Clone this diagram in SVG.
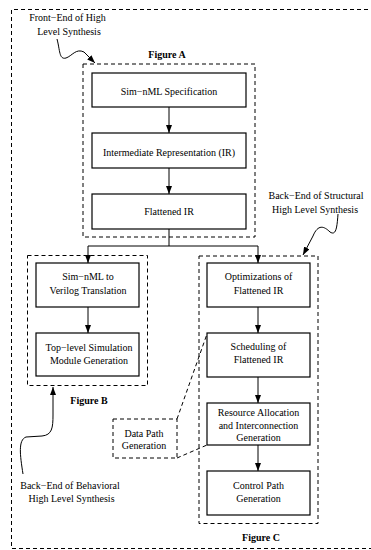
<svg xmlns="http://www.w3.org/2000/svg" width="371" height="550" viewBox="0 0 371 550">
<style>
  text { font-family: "Liberation Serif", "Times New Roman", serif; font-size: 10px; fill: #000; text-anchor: middle; }
  .bold { font-weight: bold; }
  .box { fill: #fff; stroke: #000; stroke-width: 1.2; }
  .dash { fill: none; stroke: #000; stroke-width: 1; stroke-dasharray: 4 3; }
  .line { fill: none; stroke: #000; stroke-width: 1; }
  .arr { fill: none; stroke: #000; stroke-width: 1; marker-end: url(#ah); }
</style>
<defs>
  <marker id="ah" viewBox="0 0 8 6" refX="8" refY="3" markerWidth="8" markerHeight="6" markerUnits="userSpaceOnUse" orient="auto">
    <path d="M0,0 L8,3 L0,6 Z" fill="#000"/>
  </marker>
</defs>

<g id="frame">
  <path class="dash" d="M375,9.5 L11.5,9.5 L11.5,548.5 L375,548.5"/>
</g>

<g id="groups">
  <rect id="figA" class="dash" x="83" y="64" width="172" height="173"/>
  <rect id="figB" class="dash" x="27.5" y="255.5" width="120" height="130"/>
  <rect id="figC" class="dash" x="199" y="256" width="119" height="267.5"/>
  <text class="bold" x="167" y="58">Figure A</text>
  <text class="bold" x="89" y="404">Figure B</text>
  <text class="bold" x="261" y="541">Figure C</text>
</g>

<g id="connectors">
  <path class="arr" d="M169,107 L169,133"/>
  <path class="arr" d="M169,168 L169,194"/>
  <path class="line" d="M169,229 L169,246 M88,246 L258,246"/>
  <path class="arr" d="M88,246 L88,263"/>
  <path class="arr" d="M258,246 L258,263"/>
  <path class="arr" d="M88,307 L88,333"/>
  <path class="arr" d="M258,307 L258,333"/>
  <path class="arr" d="M258,377 L258,403"/>
  <path class="arr" d="M258,445 L258,471"/>
  <path class="dash" d="M177,419 L207,334"/>
  <path class="dash" d="M177,458 L207,445"/>
  <path class="arr" d="M57,39 C60,50 59,60 66,58 C72,56 76,48 84,52 L95,63"/>
  <path class="arr" d="M338,214 C337,228 336,236 330,232 C324,226 318,224 313,236 L303,255"/>
  <path class="arr" d="M23,474 C20,455 18,440 26,437 L42,436 C52,435 53,428 53,415 L53,387"/>
</g>

<g id="n1"><rect class="box" x="92" y="73" width="154" height="34"/><text x="169" y="95">Sim−nML Specification</text></g>
<g id="n2"><rect class="box" x="92" y="133" width="154" height="35"/><text x="169" y="156">Intermediate Representation (IR)</text></g>
<g id="n3"><rect class="box" x="92" y="194" width="154" height="35"/><text x="169" y="215">Flattened IR</text></g>

<g id="n4"><rect class="box" x="36" y="263" width="103" height="44"/><text x="88" y="280">Sim−nML to</text><text x="88" y="294">Verilog Translation</text></g>
<g id="n5"><rect class="box" x="36" y="333" width="103" height="43"/><text x="89" y="351">Top−level Simulation</text><text x="89" y="364">Module Generation</text></g>

<g id="n6"><rect class="box" x="207" y="263" width="103" height="44"/><text x="258.5" y="280">Optimizations of</text><text x="258.5" y="294">Flattened IR</text></g>
<g id="n7"><rect class="box" x="207" y="333" width="103" height="44"/><text x="258.5" y="350">Scheduling of</text><text x="258.5" y="363">Flattened IR</text></g>
<g id="n8"><rect class="box" x="207" y="403" width="103" height="42"/><text x="258.5" y="416">Resource Allocation</text><text x="258.5" y="429">and Interconnection</text><text x="258.5" y="441">Generation</text></g>
<g id="n9"><rect class="box" x="207" y="471" width="103" height="44"/><text x="258.5" y="489">Control Path</text><text x="258.5" y="502">Generation</text></g>

<g id="datapath"><rect class="dash" x="113" y="419" width="64" height="39"/><text x="144" y="437">Data Path</text><text x="144" y="449">Generation</text></g>

<g id="labels">
  <text x="67.5" y="21">Front−End of High</text>
  <text x="69" y="35">Level Synthesis</text>
  <text x="316" y="199">Back−End of Structural</text>
  <text x="315" y="213">High Level Synthesis</text>
  <text x="70" y="489">Back−End of Behavioral</text>
  <text x="71.5" y="502">High Level Synthesis</text>
</g>
</svg>
